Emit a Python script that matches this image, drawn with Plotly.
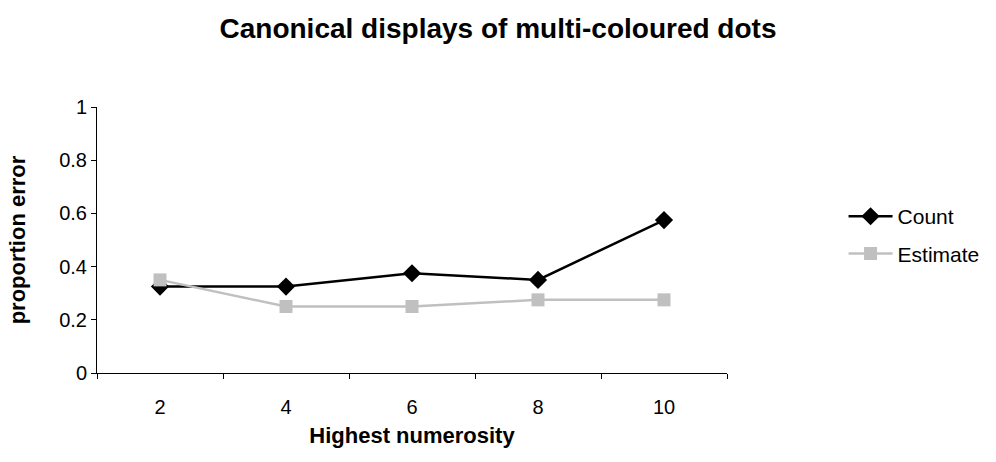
import plotly.graph_objects as go

categories = ["2", "4", "6", "8", "10"]
count_err = [0.325, 0.325, 0.375, 0.35, 0.575]
estimate_err = [0.35, 0.25, 0.25, 0.275, 0.275]

FONT = "Liberation Sans, Arial, sans-serif"

fig = go.Figure()
fig.add_trace(go.Scatter(
    x=categories, y=count_err, name="Count", mode="lines+markers",
    line=dict(color="black", width=2.5),
    marker=dict(symbol="diamond", size=14, color="black"),
    legendgroup="a",
))
fig.add_trace(go.Scatter(
    x=categories, y=estimate_err, name="Estimate", mode="lines+markers",
    line=dict(color="#c0c0c0", width=2.5),
    marker=dict(symbol="square", size=13, color="#c0c0c0"),
    legendgroup="b",
))

fig.update_layout(
    width=996, height=462,
    margin=dict(l=97, r=266, t=107, b=89),
    paper_bgcolor="white", plot_bgcolor="white",
    font=dict(family=FONT, size=20, color="black"),
    title=dict(text="<b>Canonical displays of multi-coloured dots</b>",
               x=0.5, xanchor="center", y=0.94, yanchor="middle",
               font=dict(size=28, family=FONT)),
    legend=dict(x=1.185, y=0.665, xanchor="left", yanchor="top",
                font=dict(size=21), tracegroupgap=7, itemwidth=44,
                bgcolor="rgba(0,0,0,0)"),
    xaxis=dict(
        type="category", range=[-0.5, 4.5],
        showline=True, linecolor="black", linewidth=1,
        ticks="outside", ticklen=5, tickcolor="black", tickson="boundaries",
        ticklabelstandoff=16,
        showgrid=False, zeroline=False,
        title=dict(text="<b>Highest numerosity</b>", font=dict(size=22), standoff=10),
    ),
    yaxis=dict(
        range=[0, 1], dtick=0.2, showline=True, linecolor="black", linewidth=1,
        ticks="outside", ticklen=5, tickcolor="black", showgrid=False,
        zeroline=False,
        title=dict(text="<b>proportion error</b>", font=dict(size=22), standoff=27),
    ),
)

fig.write_html("out.html")
